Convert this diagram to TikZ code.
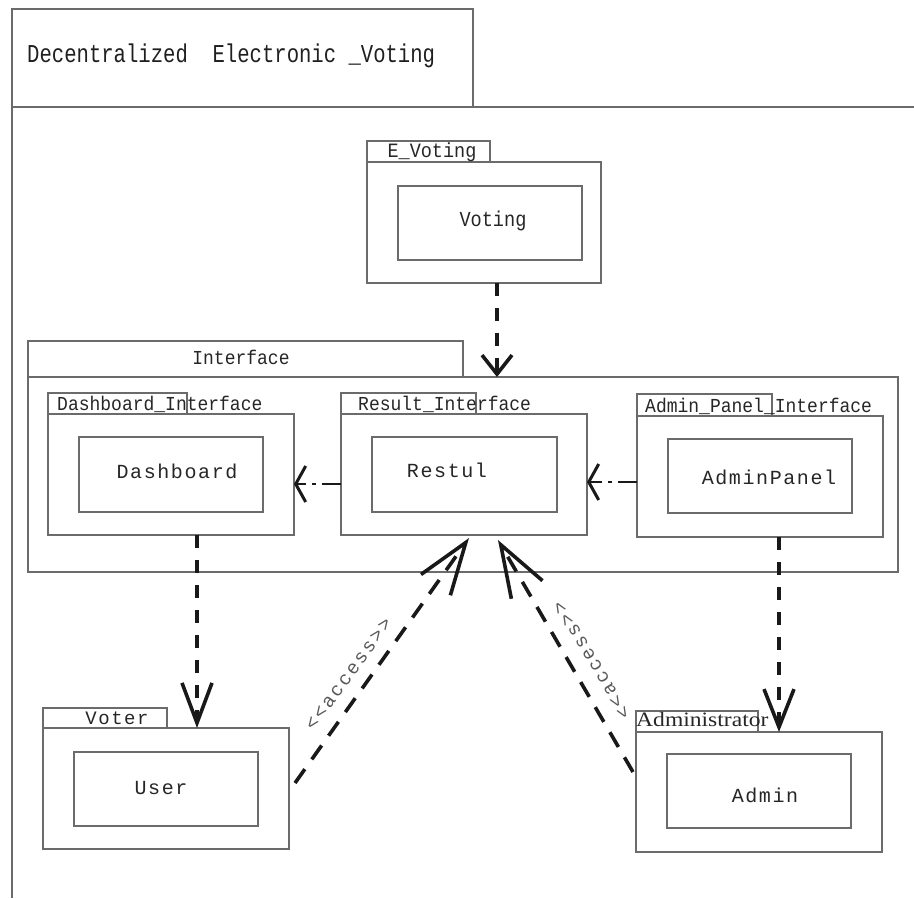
\documentclass[tikz,border=0pt]{standalone}
\usepackage{fontspec}
\usetikzlibrary{arrows.meta}
\newfontfamily\monof{Liberation Mono}
\newfontfamily\monosp{Liberation Mono}[LetterSpace=8]
\newfontfamily\monoacc{Liberation Mono}[LetterSpace=12]
\newfontfamily\serff{Liberation Serif}
% package frame from its top-left corner (x1,y1) to bottom-right corner (x2,y2)
\newcommand\pkgbox[5]{\node[frame, minimum width={#4pt-#2pt}, minimum height={#5pt-#3pt}] (#1) at (#2,#3) {};}
\begin{document}
\begin{tikzpicture}[x=1pt,y=-1pt,
  frame/.style={draw=black!58, line width=1.2pt, inner sep=0pt, outer sep=0pt, anchor=north west},
  tablabel/.style={inner sep=0pt, anchor=base west, text=black!85, font=\monof\fontsize{18}{20}\selectfont},
  inlabel/.style={inner sep=0pt, anchor=base, text=black!85, font=\monosp\fontsize{20}{22}\selectfont},
  acclabel/.style={inner sep=0pt, anchor=center, text=black!65, font=\monoacc\fontsize{19}{22}\selectfont},
  dep/.style={draw=black!90, line width=4pt, dash pattern=on 13pt off 12pt},
  ddot/.style={draw=black!90, line width=2.6pt, dash pattern=on 19pt off 6pt on 4pt off 6pt on 30pt,
    -{Straight Barb[length=10pt, width=36pt, line width=3pt]}},
  acc/.style={draw=black!90, line width=3.6pt, dash pattern=on 17pt off 12pt,
    -{Straight Barb[length=52pt, width=36pt, line width=3.6pt]}}
]
\useasboundingbox (0,0) rectangle (914,898);

% outer frame with the title block
\pkgbox{titlebox}{12}{9}{473}{107}
\draw[draw=black!58, line width=1.2pt] (titlebox.south west) -- (titlebox.south west |- 0,898);
\draw[draw=black!58, line width=1.2pt] (titlebox.south west) -- (titlebox.south west -| 914,0);
\node[inner sep=0pt, anchor=base west, text=black!88, font=\monof\fontsize{20.6}{24}\selectfont]
  (title) at (27,62) {\scalebox{1}[1.25]{Decentralized\ \ Electronic \_Voting}};

% E_Voting
\pkgbox{evtab}{367}{141}{490}{162}
\pkgbox{evbody}{367}{162}{601}{283}
\pkgbox{evinner}{398}{186}{582}{260}
\node[tablabel, font=\monof\fontsize{18.5}{20}\selectfont, anchor=base] (evlab) at (432,157) {\scalebox{1}[1.1]{E\_Voting}};
\node[inlabel, font=\monof\fontsize{18.6}{20}\selectfont] (voting) at (493,226) {\scalebox{1}[1.15]{Voting}};

% Interface
\pkgbox{iftab}{28}{341}{463}{377}
\pkgbox{ifbody}{28}{377}{898}{572}
\node[tablabel, anchor=base] (iflab) at (241,364) {\scalebox{1}[1.1]{Interface}};

% Dashboard_Interface
\pkgbox{dashtab}{48}{393}{187}{414}
\pkgbox{dashbody}{48}{414}{294}{535}
\pkgbox{dashinner}{79}{437}{263}{512}
\node[tablabel] (dashlab) at (57,410) {\scalebox{1}[1.1]{Dashboard\_Interface}};
\node[inlabel] (dashboard) at (177,478) {Dashboard};

% Result_Interface
\pkgbox{restab}{341}{393}{476}{414}
\pkgbox{resbody}{341}{414}{587}{535}
\pkgbox{resinner}{372}{437}{557}{512}
\node[tablabel] (reslab) at (358,410) {\scalebox{1}[1.1]{Result\_Interface}};
\node[inlabel] (restul) at (447,477) {Restul};

% Admin_Panel_Interface
\pkgbox{aptab}{637}{394}{772}{416}
\pkgbox{apbody}{637}{416}{883}{537}
\pkgbox{apinner}{668}{439}{852}{513}
\node[tablabel] (aplab) at (645,412) {\scalebox{1}[1.1]{Admin\_Panel\_Interface}};
\node[inlabel] (adminpanel) at (769,484) {AdminPanel};

% Voter
\pkgbox{votertab}{43}{708}{167}{728}
\pkgbox{voterbody}{43}{728}{289}{849}
\pkgbox{voterinner}{74}{752}{258}{826}
\node[inlabel, font=\monosp\fontsize{19}{20}\selectfont] (voterlab) at (117,724) {Voter};
\node[inlabel] (user) at (161,794) {User};

% Administrator
\pkgbox{admtab}{636}{711}{758}{732}
\pkgbox{admbody}{636}{732}{882}{852}
\pkgbox{adminner}{667}{754}{851}{828}
\node[inner sep=0pt, anchor=base west, text=black!85, font=\serff\fontsize{20.5}{22}\selectfont]
  (admlab) at (636,726) {\scalebox{1.15}[1]{Administrator}};
\node[inlabel] (admin) at (765,802) {Admin};

% dependencies
\draw[dep, -{Straight Barb[length=19pt, width=30pt, line width=3.6pt]}]
  ([shift={(13,0)}]evbody.south) -- ([shift={(13,0)}]evbody.south |- ifbody.north);
\draw[dep, -{Straight Barb[length=40pt, width=30pt, line width=3.6pt]}]
  ([shift={(26,0)}]dashbody.south) -- ([shift={(26,0)}]dashbody.south |- voterbody.north);
\draw[dep, -{Straight Barb[length=38pt, width=30pt, line width=3.6pt]}]
  ([shift={(19,0)}]apbody.south) -- ([shift={(19,0)}]apbody.south |- admbody.north);
\draw[ddot] ([shift={(0,9.5)}]resbody.west) -- ([shift={(0,9.5)}]resbody.west -| dashbody.east);
\draw[ddot] ([shift={(0,5.5)}]apbody.west) -- ([shift={(0,5.5)}]apbody.west -| resbody.east);

% access relations
\draw[acc] ([shift={(6,55)}]voterbody.north east) -- ([shift={(5,3)}]resbody.south);
\draw[acc] ([shift={(-3,40)}]admbody.north west) -- ([shift={(34,5)}]resbody.south);
\node[acclabel, rotate=54] (acc1) at (349,674) {<<access>>};
\node[acclabel, rotate=121] (acc2) at (592,660) {<<access>>};
\end{tikzpicture}
\end{document}
